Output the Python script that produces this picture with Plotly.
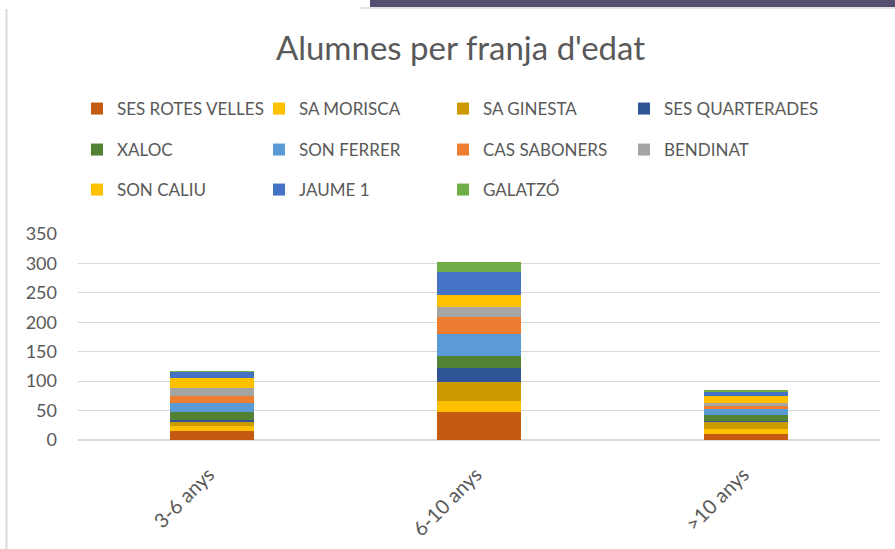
import plotly.graph_objects as go

categories = ["3-6 anys", "6-10 anys", ">10 anys"]
schools = ["SES ROTES VELLES", "SA MORISCA", "SA GINESTA", "SES QUARTERADES",
           "XALOC", "SON FERRER", "CAS SABONERS", "BENDINAT",
           "SON CALIU", "JAUME 1", "GALATZÓ"]
ses_rotes_velles = [16, 47, 11]
sa_morisca = [8, 20, 8]
sa_ginesta = [6, 31, 13]
ses_quarterades = [4, 24, 1]
xaloc = [13, 21, 10]
son_ferrer = [16, 37, 10]
cas_saboners = [12, 29, 4]
bendinat = [14, 17, 6]
son_caliu = [17, 20, 12]
jaume_1 = [10, 39, 8]
galatzo = [1, 18, 2]
yticks = [0, 50, 100, 150, 200, 250, 300, 350]

series = [ses_rotes_velles, sa_morisca, sa_ginesta, ses_quarterades, xaloc,
          son_ferrer, cas_saboners, bendinat, son_caliu, jaume_1, galatzo]
colors = ["#C55A11", "#FFC000", "#CC9A00", "#2F5597", "#548235",
          "#5B9BD5", "#ED7D31", "#A5A5A5", "#FFC000", "#4472C4", "#70AD47"]

W, H = 895, 549
L, R, T, B = 78, 15, 234, 109
PW, PH = W - L - R, H - T - B

font = "Lato, Calibri, 'Liberation Sans', sans-serif"
col_text_x = [117, 299, 483, 664]
row_y = [109, 150, 190]

fig = go.Figure()
layout_legends = {}
for i, (name, vals, col) in enumerate(zip(schools, series, colors)):
    lid = "legend" if i == 0 else f"legend{i + 1}"
    fig.add_trace(go.Bar(name=name, x=categories, y=vals, marker_color=col,
                         marker_line_width=0, width=0.315, legend=lid,
                         showlegend=True))
    layout_legends[lid] = dict(
        orientation="h", xref="container", yref="container",
        xanchor="left", yanchor="middle", itemwidth=30,
        x=(col_text_x[i % 4] - 40) / W, y=1 - row_y[i // 4] / H,
        font=dict(family=font, size=17, color="#595959"),
        bgcolor="rgba(0,0,0,0)")

fig.update_layout(
    width=W, height=H,
    barmode="stack",
    showlegend=True,
    plot_bgcolor="white", paper_bgcolor="white",
    margin=dict(l=L, r=R, t=T, b=B),
    title=dict(text="Alumnes per franja d'edat", x=460.5 / W, xanchor="center",
               xref="container", yref="container",
               y=1 - 48 / H, yanchor="middle",
               font=dict(family=font, size=33, color="#595959")),
    font=dict(family=font, size=17, color="#595959"),
    xaxis=dict(tickangle=-45, showgrid=False, showline=False, ticks="",
               ticklabelstandoff=18, ticklabelshift=-3, automargin=False,
               tickfont=dict(family=font, size=20, color="#595959")),
    yaxis=dict(range=[0, 350], tickvals=yticks, showgrid=True, gridcolor="#D9D9D9",
               gridwidth=1, zeroline=True, zerolinecolor="#D9D9D9", showline=False,
               ticks="", ticklabelstandoff=20, automargin=False,
               tickfont=dict(family=font, size=18, color="#595959")),
    **layout_legends,
)

# window decorations of the original screenshot
fig.add_shape(type="rect", xref="paper", yref="paper",
              x0=(360 - L) / PW, x1=(W - L + 5) / PW,
              y0=(H - B - 9) / PH, y1=(H - B - 7) / PH,
              fillcolor="#E3E3E3", line_width=0, layer="above")
fig.add_shape(type="rect", xref="paper", yref="paper",
              x0=(370 - L) / PW, x1=(W - L + 5) / PW,
              y0=(H - B - 7) / PH, y1=(H - B + 5) / PH,
              fillcolor="#544E70", line_width=0, layer="above")
fig.add_shape(type="line", xref="paper", yref="paper",
              x0=(6.5 - L) / PW, x1=(6.5 - L) / PW,
              y0=-(B + 5) / PH, y1=(H - B - 9) / PH,
              line=dict(color="#D9D9D9", width=2))

fig.write_html("out.html", config={"displayModeBar": False},
               post_script="document.body.style.margin='0';document.body.style.overflow='hidden';")
